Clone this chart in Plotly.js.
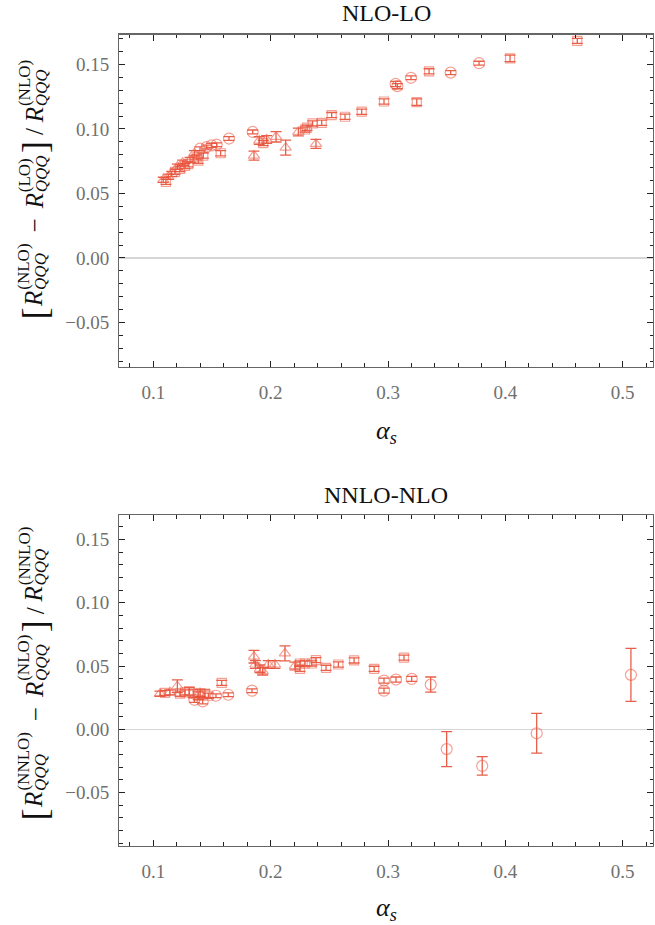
<!DOCTYPE html>
<html>
<head>
<meta charset="utf-8">
<script src="https://cdn.plot.ly/plotly-3.0.1.min.js"></script>
<style>html,body{margin:0;padding:0;background:#fff;}#chart{width:655px;height:925px;}</style>
</head>
<body>
<div id="chart"></div>
<script>
// ---- Top panel: NLO-LO ----
const nloCircX = [0.1398,0.1455,0.1497,0.1540,0.1645,0.1847,0.3065,0.3080,0.3196,0.3534,0.3776];
const nloCircY = [0.0847,0.0860,0.0873,0.0878,0.0926,0.0977,0.1349,0.1332,0.1397,0.1437,0.1510];
const nloCircE = [0.0015,0.0015,0.0015,0.0015,0.0015,0.0015,0.0020,0.0020,0.0015,0.0015,0.0015];

const nloSqX = [0.1108,0.1185,0.1228,0.1270,0.1298,0.1370,0.1383,0.1426,0.1574,0.1937,0.2293,0.2310,0.2358,0.2435,0.2520,0.2634,0.2776,0.2966,0.3245,0.3350,0.4040,0.4613];
const nloSqY = [0.0590,0.0668,0.0690,0.0713,0.0727,0.0780,0.0754,0.0794,0.0812,0.0891,0.0996,0.1010,0.1043,0.1048,0.1108,0.1095,0.1134,0.1213,0.1208,0.1447,0.1547,0.1683];
const nloSqE = [0.0020,0.0020,0.0020,0.0020,0.0020,0.0020,0.0020,0.0020,0.0020,0.0020,0.0020,0.0020,0.0020,0.0020,0.0020,0.0020,0.0020,0.0020,0.0025,0.0020,0.0025,0.0020];

const nloTriX = [0.1085,0.1128,0.1157,0.1205,0.1250,0.1313,0.1350,0.1858,0.1903,0.1966,0.2046,0.2128,0.2236,0.2386];
const nloTriY = [0.0606,0.0630,0.0651,0.0707,0.0739,0.0759,0.0812,0.0794,0.0910,0.0918,0.0939,0.0855,0.0977,0.0884];
const nloTriE = [0.0020,0.0020,0.0020,0.0020,0.0020,0.0020,0.0020,0.0035,0.0030,0.0030,0.0040,0.0058,0.0030,0.0035];

// ---- Bottom panel: NNLO-NLO ----
const nnloCircX = [0.1350,0.1421,0.1534,0.1639,0.1841,0.2966,0.2966,0.3068,0.3202,0.3364,0.3500,0.3803,0.4267,0.5070];
const nnloCircY = [0.0233,0.0220,0.0265,0.0273,0.0305,0.0385,0.0305,0.0393,0.0398,0.0353,-0.0157,-0.0290,-0.0032,0.0430];
const nnloCircE = [0.0020,0.0020,0.0015,0.0015,0.0015,0.0020,0.0020,0.0020,0.0020,0.0060,0.0139,0.0073,0.0157,0.0210];

const nnloSqX = [0.1100,0.1228,0.1270,0.1307,0.1341,0.1383,0.1440,0.1469,0.1583,0.2250,0.2250,0.2293,0.2350,0.2386,0.2472,0.2577,0.2711,0.2882,0.3136];
const nnloSqY = [0.0287,0.0281,0.0292,0.0300,0.0281,0.0265,0.0281,0.0265,0.0367,0.0478,0.0520,0.0520,0.0520,0.0547,0.0486,0.0512,0.0544,0.0478,0.0566];
const nnloSqE = [0.0020,0.0020,0.0020,0.0030,0.0030,0.0030,0.0030,0.0020,0.0020,0.0020,0.0020,0.0020,0.0020,0.0020,0.0020,0.0020,0.0020,0.0020,0.0020];

const nnloTriX = [0.1057,0.1142,0.1205,0.1398,0.1858,0.1870,0.1909,0.1932,0.1980,0.2037,0.2122,0.2207];
const nnloTriY = [0.0281,0.0292,0.0340,0.0287,0.0574,0.0512,0.0478,0.0459,0.0512,0.0512,0.0600,0.0500];
const nnloTriE = [0.0020,0.0020,0.0050,0.0030,0.0050,0.0030,0.0030,0.0030,0.0030,0.0030,0.0060,0.0030];

const xTickVals = [0.1,0.2,0.3,0.4,0.5];
const yTickVals = [-0.05,0.00,0.05,0.10,0.15];

const markColor = 'rgba(236,96,76,0.6)';
const barColor = 'rgba(228,78,52,0.9)';

function mk(x, y, e, symbol, size, xa, ya) {
  return {
    type: 'scatter', mode: 'markers', x: x, y: y, xaxis: xa, yaxis: ya,
    marker: {symbol: symbol, size: size, color: markColor, line: {width: 1.2, color: markColor}},
    error_y: {type: 'data', array: e, visible: true, color: barColor, thickness: 1.3, width: 5.5},
    showlegend: false, hoverinfo: 'x+y'
  };
}

const traces = [
  mk(nloCircX, nloCircY, nloCircE, 'circle-open', 11, 'x', 'y'),
  mk(nloSqX, nloSqY, nloSqE, 'square-open', 9, 'x', 'y'),
  mk(nloTriX, nloTriY, nloTriE, 'triangle-up-open', 10, 'x', 'y'),
  mk(nnloCircX, nnloCircY, nnloCircE, 'circle-open', 11, 'x2', 'y2'),
  mk(nnloSqX, nnloSqY, nnloSqE, 'square-open', 9, 'x2', 'y2'),
  mk(nnloTriX, nnloTriY, nnloTriE, 'triangle-up-open', 10, 'x2', 'y2')
];

const FAM = 'Liberation Serif';
const serif = 'Liberation Serif, DejaVu Serif, serif';
const tickFont = {family: serif, size: 19, color: '#707070'};

function xAx(anchor) {
  return {
    domain: [0.18214, 0.99695], range: [0.07103, 0.52582], anchor: anchor,
    tickmode: 'array', tickvals: xTickVals, tickformat: '.1f',
    ticks: 'inside', ticklen: 6, tickwidth: 1, tickcolor: '#222',
    minor: {dtick: 0.02, tick0: 0, ticks: 'inside', ticklen: 3.5, tickwidth: 1, tickcolor: '#222'},
    showline: true, linecolor: '#666', linewidth: 1.2, mirror: 'ticks',
    showgrid: false, zeroline: false, tickfont: tickFont, ticklabelstandoff: 8
  };
}
function yAx(anchor, domain, range) {
  return {
    domain: domain, range: range, anchor: anchor,
    tickmode: 'array', tickvals: yTickVals, tickformat: '.2f',
    ticks: 'inside', ticklen: 6, tickwidth: 1, tickcolor: '#222',
    minor: {dtick: 0.01, tick0: 0, ticks: 'inside', ticklen: 3.5, tickwidth: 1, tickcolor: '#222'},
    showline: true, linecolor: '#666', linewidth: 1.2, mirror: 'ticks',
    showgrid: false, zeroline: true, zerolinecolor: '#d6d6d6', zerolinewidth: 1.2,
    tickfont: tickFont, ticklabelstandoff: 5
  };
}

// ---- rotated y-axis label with stacked super/subscripts ----
const ctx = document.createElement('canvas').getContext('2d');
function tw(s, size, italic) {
  ctx.font = (italic ? 'italic ' : '') + size + 'px "' + FAM + '"';
  return ctx.measureText(s).width;
}
const MAIN = 25, SCR = 17, BR = 36;
function yLabelAnns(supA, supB, x0, yCenter) {
  const parts = [
    {k: 'br', t: '['}, {k: 'R'}, {k: 'sc', sup: supA}, {k: 'op', t: '−', pad: 9},
    {k: 'R'}, {k: 'sc', sup: supB}, {k: 'br', t: ']'}, {k: 'op', t: '/', pad: 5},
    {k: 'R'}, {k: 'sc', sup: supA}
  ];
  parts.forEach(p => {
    if (p.k === 'br') p.w = tw(p.t, BR, false) + 1;
    else if (p.k === 'R') p.w = tw('R', MAIN, true) + 1;
    else if (p.k === 'op') p.w = tw(p.t, MAIN, false) + 2 * p.pad;
    else { p.ws = tw(p.sup, SCR, false); p.wb = tw('QQQ', SCR, true); p.w = Math.max(p.ws, p.wb) + 3; }
  });
  const total = parts.reduce((a, p) => a + p.w, 0);
  const yStart = yCenter + total / 2;
  const anns = [];
  const base = {xref: 'paper', yref: 'paper', showarrow: false, textangle: -90, xanchor: 'center', yanchor: 'middle'};
  let pos = 0;
  const P = (px, py, text, size) => anns.push(Object.assign({}, base, {
    x: px / 655, y: 1 - py / 925, text: text, font: {family: FAM, size: size, color: '#111'}
  }));
  parts.forEach(p => {
    if (p.k === 'br') P(x0 + 1, yStart - (pos + p.w / 2), p.t, BR);
    else if (p.k === 'R') P(x0, yStart - (pos + p.w / 2), '<i>R</i>', MAIN);
    else if (p.k === 'op') P(x0 + 1, yStart - (pos + p.w / 2), p.t, MAIN);
    else {
      P(x0 - 10, yStart - (pos + 1 + p.ws / 2), p.sup, SCR);
      P(x0 + 7, yStart - (pos + 0.5 + p.wb / 2), '<i>QQQ</i>', SCR);
    }
    pos += p.w;
  });
  return anns;
}

const titleFont = {family: serif, size: 24, color: '#111'};
const alpha = '<i>α</i><sub><i>s</i></sub>';
const alphaFont = {family: serif, size: 26, color: '#111'};

const annotations = [
  {text: 'NLO-LO', xref: 'paper', yref: 'paper', x: 386/655, y: 1 - 13/925, showarrow: false, font: titleFont, xanchor: 'center', yanchor: 'middle'},
  {text: 'NNLO-NLO', xref: 'paper', yref: 'paper', x: 386/655, y: 1 - 495/925, showarrow: false, font: titleFont, xanchor: 'center', yanchor: 'middle'},
  {text: alpha, xref: 'paper', yref: 'paper', x: 386/655, y: 1 - 432/925, showarrow: false, font: alphaFont, xanchor: 'center', yanchor: 'middle'},
  {text: alpha, xref: 'paper', yref: 'paper', x: 386/655, y: 1 - 909/925, showarrow: false, font: alphaFont, xanchor: 'center', yanchor: 'middle'}
].concat(yLabelAnns('(NLO)', '(LO)', 34, 189), yLabelAnns('(NNLO)', '(NLO)', 34, 673));

const layout = {
  width: 655, height: 925, margin: {l: 0, r: 0, t: 0, b: 0},
  paper_bgcolor: '#fff', plot_bgcolor: '#fff', showlegend: false,
  xaxis: xAx('y'),
  yaxis: yAx('x', [0.60357, 0.96249], [-0.0843, 0.1731]),
  xaxis2: xAx('y2'),
  yaxis2: yAx('x2', [0.08541, 0.44324], [-0.0923, 0.1694]),
  annotations: annotations
};

Plotly.newPlot('chart', traces, layout, {staticPlot: true, displayModeBar: false});
</script>
</body>
</html>
